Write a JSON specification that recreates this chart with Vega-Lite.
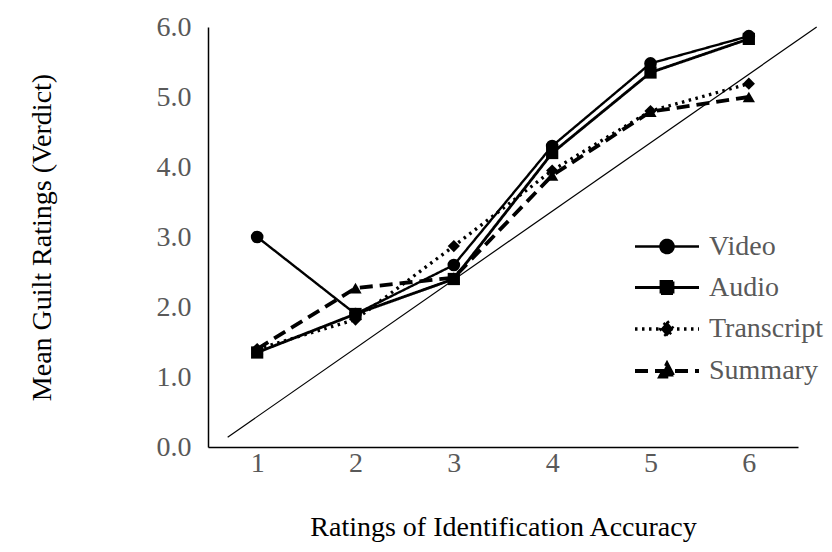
{
  "$schema": "https://vega.github.io/schema/vega-lite/v6.json",
  "width": 590,
  "height": 420,
  "autosize": {"type": "none"},
  "padding": {"left": 208, "top": 27, "right": 34, "bottom": 105},
  "background": "white",
  "config": {
    "view": {"stroke": null},
    "font": "Liberation Serif",
    "axis": {"grid": false, "ticks": false, "domainColor": "black", "domainWidth": 1.5, "labelFont": "Liberation Serif", "titleFont": "Liberation Serif", "labelFontSize": 28, "titleFontSize": 28, "labelColor": "#595959", "titleColor": "black", "titleFontWeight": "normal"}
  },
  "data": {"values": [
    {"series": "Video", "x": 1, "y": 3.0},
    {"series": "Video", "x": 2, "y": 1.9},
    {"series": "Video", "x": 3, "y": 2.6},
    {"series": "Video", "x": 4, "y": 4.3},
    {"series": "Video", "x": 5, "y": 5.48},
    {"series": "Video", "x": 6, "y": 5.87},
    {"series": "Audio", "x": 1, "y": 1.35},
    {"series": "Audio", "x": 2, "y": 1.9},
    {"series": "Audio", "x": 3, "y": 2.4},
    {"series": "Audio", "x": 4, "y": 4.2},
    {"series": "Audio", "x": 5, "y": 5.35},
    {"series": "Audio", "x": 6, "y": 5.83},
    {"series": "Transcript", "x": 1, "y": 1.4},
    {"series": "Transcript", "x": 2, "y": 1.82},
    {"series": "Transcript", "x": 3, "y": 2.87},
    {"series": "Transcript", "x": 4, "y": 3.95},
    {"series": "Transcript", "x": 5, "y": 4.8},
    {"series": "Transcript", "x": 6, "y": 5.19},
    {"series": "Summary", "x": 1, "y": 1.4},
    {"series": "Summary", "x": 2, "y": 2.27},
    {"series": "Summary", "x": 3, "y": 2.42},
    {"series": "Summary", "x": 4, "y": 3.88},
    {"series": "Summary", "x": 5, "y": 4.79},
    {"series": "Summary", "x": 6, "y": 5.0}
  ]},
  "layer": [
    {
      "data": {"values": [{"x": 0.7, "y": 0.14}, {"x": 6.69, "y": 6.0}]},
      "mark": {"type": "line", "color": "black", "strokeWidth": 1.2, "clip": false},
      "encoding": {
        "x": {"field": "x", "type": "quantitative", "scale": {"domain": [0.5, 6.5], "nice": false, "zero": false},
              "axis": {"values": [1, 2, 3, 4, 5, 6], "format": "d", "labelPadding": 2, "title": "Ratings of Identification Accuracy", "titlePadding": 36}},
        "y": {"field": "y", "type": "quantitative", "scale": {"domain": [0, 6], "nice": false},
              "axis": {"values": [0, 1, 2, 3, 4, 5, 6], "format": ".1f", "labelPadding": 17, "title": "Mean Guilt Ratings (Verdict)", "titlePadding": 100}}
      }
    },
    {
      "mark": {"type": "line", "color": "black"},
      "encoding": {
        "x": {"field": "x", "type": "quantitative"},
        "y": {"field": "y", "type": "quantitative"},
        "strokeDash": {"field": "series", "type": "nominal",
          "scale": {"domain": ["Video", "Audio", "Transcript", "Summary"], "range": [[1, 0], [1, 0], [2.5, 4.5], [13, 7]]},
          "legend": {
            "orient": "none", "legendX": 437, "legendY": 198, "title": null, "padding": 0,
            "labelFont": "Liberation Serif", "labelFontSize": 28, "labelColor": "#595959",
            "symbolSize": 1600, "rowPadding": 5, "labelOffset": 20,
            "symbolFillColor": "black", "symbolStrokeColor": "black",
            "encode": {"symbols": {"update": {
              "shape": {"signal": "datum.value === 'Video' ? 'M-1.6,0L1.6,0M-0.33,0A0.33,0.33,0,1,0,0.33,0A0.33,0.33,0,1,0,-0.33,0Z' : datum.value === 'Audio' ? 'M-1.6,0L1.6,0M-0.3,-0.3L0.3,-0.3L0.3,0.3L-0.3,0.3Z' : datum.value === 'Transcript' ? 'M-1.6,0L1.6,0M0,-0.38L0.32,0L0,0.38L-0.32,0Z' : 'M-1.6,0L1.6,0M0,-0.36L0.34,0.28L-0.34,0.28Z'"},
              "fill": {"value": "black"},
              "stroke": {"value": "black"},
              "fillOpacity": {"value": 1},
              "strokeWidth": {"signal": "datum.value === 'Audio' ? 3.8 : 2.6"}
            }}}
          }},
        "strokeWidth": {"field": "series", "type": "nominal",
          "scale": {"domain": ["Video", "Audio", "Transcript", "Summary"], "range": [2.4, 3.8, 2.8, 2.8]}, "legend": null}
      }
    },
    {
      "transform": [{"filter": "datum.series === 'Video'"}],
      "mark": {"type": "point", "shape": "circle", "filled": true, "color": "black", "opacity": 1, "size": 160},
      "encoding": {"x": {"field": "x", "type": "quantitative"}, "y": {"field": "y", "type": "quantitative"}}
    },
    {
      "transform": [{"filter": "datum.series === 'Audio'"}],
      "mark": {"type": "point", "shape": "square", "filled": true, "color": "black", "opacity": 1, "size": 150},
      "encoding": {"x": {"field": "x", "type": "quantitative"}, "y": {"field": "y", "type": "quantitative"}}
    },
    {
      "transform": [{"filter": "datum.series === 'Transcript'"}],
      "mark": {"type": "point", "shape": "diamond", "filled": true, "color": "black", "opacity": 1, "size": 150},
      "encoding": {"x": {"field": "x", "type": "quantitative"}, "y": {"field": "y", "type": "quantitative"}}
    },
    {
      "transform": [{"filter": "datum.series === 'Summary'"}],
      "mark": {"type": "point", "shape": "triangle-up", "filled": true, "color": "black", "opacity": 1, "size": 150},
      "encoding": {"x": {"field": "x", "type": "quantitative"}, "y": {"field": "y", "type": "quantitative"}}
    }
  ]
}
